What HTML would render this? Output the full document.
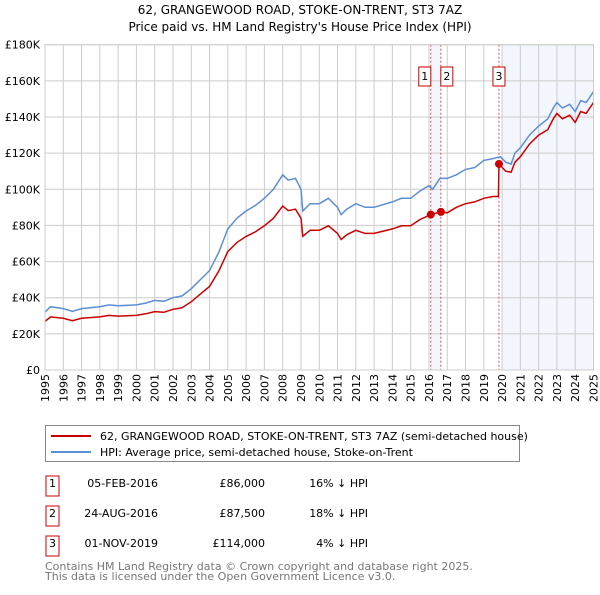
<!DOCTYPE html>
<html><head><meta charset="utf-8"><style>
body{margin:0;background:#fff;font-family:"Liberation Sans","DejaVu Sans",sans-serif}
svg text{font-family:"DejaVu Sans","Liberation Sans",sans-serif}
</style></head><body>
<svg width="600" height="590" xmlns="http://www.w3.org/2000/svg">
<text x="300" y="14" text-anchor="middle" font-size="12">62, GRANGEWOOD ROAD, STOKE-ON-TRENT, ST3 7AZ</text>
<text x="300" y="31" text-anchor="middle" font-size="12">Price paid vs. HM Land Registry's House Price Index (HPI)</text>
<g id="plot"></g>
<rect x="45.5" y="425.5" width="474" height="36" fill="#fff" stroke="#888"/>
<line x1="51" y1="436" x2="91" y2="436" stroke="#cc0000" stroke-width="2"/>
<text x="100" y="440" font-size="11">62, GRANGEWOOD ROAD, STOKE-ON-TRENT, ST3 7AZ (semi-detached house)</text>
<line x1="51" y1="452" x2="91" y2="452" stroke="#5b8fd4" stroke-width="2"/>
<text x="100" y="456" font-size="11">HPI: Average price, semi-detached house, Stoke-on-Trent</text>
<g font-size="11">
<rect x="46" y="476" width="13" height="20" fill="none" stroke="#cc0000"/><text x="52.5" y="487" text-anchor="middle">1</text>
<text x="158" y="487" text-anchor="end">05-FEB-2016</text><text x="265" y="487" text-anchor="end">£86,000</text><text x="368" y="487" text-anchor="end">16% ↓ HPI</text>
<rect x="46" y="506" width="13" height="20" fill="none" stroke="#cc0000"/><text x="52.5" y="517" text-anchor="middle">2</text>
<text x="158" y="517" text-anchor="end">24-AUG-2016</text><text x="265" y="517" text-anchor="end">£87,500</text><text x="368" y="517" text-anchor="end">18% ↓ HPI</text>
<rect x="46" y="536" width="13" height="20" fill="none" stroke="#cc0000"/><text x="52.5" y="547" text-anchor="middle">3</text>
<text x="158" y="547" text-anchor="end">01-NOV-2019</text><text x="265" y="547" text-anchor="end">£114,000</text><text x="368" y="547" text-anchor="end">4% ↓ HPI</text>
</g>
<text x="45" y="570" font-size="11" fill="#777">Contains HM Land Registry data © Crown copyright and database right 2025.</text>
<text x="45" y="580" font-size="11" fill="#777">This data is licensed under the Open Government Licence v3.0.</text>
</svg>
<script>
const hpiDates=[1995,1995.3,1996,1996.5,1997,1998,1998.5,1999,2000,2000.5,2001,2001.5,2002,2002.5,2003,2003.5,2004,2004.5,2005,2005.5,2006,2006.5,2007,2007.5,2008,2008.3,2008.7,2009,2009.1,2009.5,2010,2010.5,2011,2011.2,2011.5,2012,2012.5,2013,2014,2014.5,2015,2015.5,2016,2016.2,2016.6,2017,2017.5,2018,2018.5,2019,2019.5,2019.9,2020.2,2020.5,2020.7,2021,2021.5,2022,2022.5,2022.8,2023,2023.3,2023.7,2024,2024.3,2024.6,2025];
const hpiValues=[32,35,34,32.5,34,35,36,35.5,36,37,38.5,38,40,41,45,50,55,65,78,84,88,91,95,100,108,105,106,100,88,92,92,95,90,86,89,92,90,90,93,95,95,99,102,100,106,106,108,111,112,116,117,118,115,114,120,123,130,135,139,145,148,145,147,143,149,148,154];
const priceDates=[1995,1995.3,1996,1996.5,1997,1998,1998.5,1999,2000,2000.5,2001,2001.5,2002,2002.5,2003,2003.5,2004,2004.5,2005,2005.5,2006,2006.5,2007,2007.5,2008,2008.3,2008.7,2009,2009.1,2009.5,2010,2010.5,2011,2011.2,2011.5,2012,2012.5,2013,2014,2014.5,2015,2015.5,2016.1,2016.65,2017,2017.5,2018,2018.5,2019,2019.5,2019.8,2019.83,2020.2,2020.5,2020.7,2021,2021.5,2022,2022.5,2022.8,2023,2023.3,2023.7,2024,2024.3,2024.6,2025];
const priceValues=[26.9,29.4,28.6,27.3,28.6,29.4,30.2,29.8,30.2,31.1,32.3,31.9,33.6,34.4,37.8,42,46.2,54.6,65.5,70.6,73.9,76.4,79.8,84,90.7,88.2,89,84,74,77.3,77.3,79.8,75.6,72.2,74.8,77.3,75.6,75.6,78.1,79.8,79.8,83.2,86,87.5,87,90,92,93,95,96,96,114,110,109.5,115,118,125,130,133,139,142,139,141,137,143,142,148];
const saleDates=[2016.1,2016.65,2019.83];
const saleValues=[86,87.5,114];
const saleLabels=["1","2","3"];
const yTicks=[0,20,40,60,80,100,120,140,160,180];
const yTickLabels=["£0","£20K","£40K","£60K","£80K","£100K","£120K","£140K","£160K","£180K"];
const xTicks=[1995,1996,1997,1998,1999,2000,2001,2002,2003,2004,2005,2006,2007,2008,2009,2010,2011,2012,2013,2014,2015,2016,2017,2018,2019,2020,2021,2022,2023,2024,2025];

const NS="http://www.w3.org/2000/svg";
const L=45,R=593.5,T=44.7,B=370;
const X=d=>L+(d-1995)/30*(R-L);
const Y=v=>B-v/180*(B-T);
const g=document.getElementById('plot');
function mk(tag,attrs,parent){const e=document.createElementNS(NS,tag);for(const k in attrs)e.setAttribute(k,attrs[k]);(parent||g).appendChild(e);return e;}
let e;
e=mk('rect',{x:X(2020),y:T,width:R-X(2020),height:B-T,fill:'#eef2fb',opacity:0.7});


e=mk('rect',{x:X(saleDates[0]),y:T,width:X(saleDates[1])-X(saleDates[0]),height:B-T,fill:'#eef2fb',opacity:0.7});


xTicks.forEach(d=>{e=mk('line',{x1:X(d),x2:X(d),y1:T,y2:B,stroke:'#ccc'});


const t=mk('text',{x:0,y:0,'font-size':11,'text-anchor':'end',transform:`translate(${X(d)+4},${B+4}) rotate(-90)`});t.textContent=d;

});
yTicks.forEach((v,i)=>{e=mk('line',{x1:L,x2:R,y1:Y(v),y2:Y(v),stroke:'#ccc'});


const t=mk('text',{x:L-5,y:Y(v)+4,'font-size':11,'text-anchor':'end'});t.textContent=yTickLabels[i];

});
saleDates.forEach(d=>{e=mk('line',{x1:X(d),x2:X(d),y1:T,y2:B,stroke:'#e05050','stroke-dasharray':'2,2'});

});
function path(ds,vs,col,name){e=mk('path',{d:ds.map((d,i)=>(i?'L':'M')+X(d).toFixed(1)+','+Y(vs[i]).toFixed(1)).join(''),fill:'none',stroke:col,'stroke-width':1.5});

}
path(hpiDates,hpiValues,'#5b8fd4','hpi-line');
path(priceDates,priceValues,'#cc0000','price-line');
saleDates.forEach((d,i)=>{e=mk('circle',{cx:X(d),cy:Y(saleValues[i]),r:4,fill:'#cc0000'});


const bx=i==1?X(d)+0.5:X(d)-6.5;
const r=mk('rect',{x:bx-6+6,y:67,width:12,height:19,fill:'#fff',stroke:'#cc0000'});
r.setAttribute('x',i==0?X(d)-12:(i==1?X(d):X(d)-6));


const t=mk('text',{x:(i==0?X(d)-6:(i==1?X(d)+6:X(d))),y:80,'font-size':11,'text-anchor':'middle'});t.textContent=saleLabels[i];

});
e=mk('rect',{x:L,y:T,width:R-L,height:B-T,fill:'none',stroke:'#ccc'});


</script>
</body></html>
